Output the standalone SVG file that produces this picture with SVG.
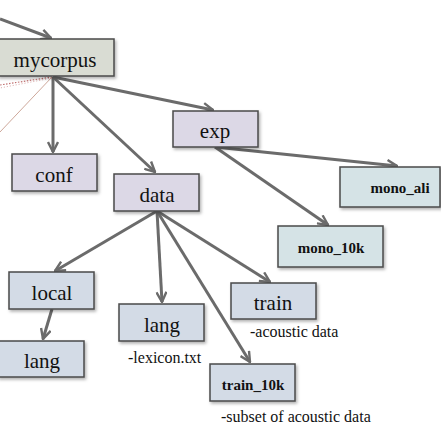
<svg xmlns="http://www.w3.org/2000/svg" width="441" height="441" viewBox="0 0 441 441">
  <defs>
    <marker id="arr" viewBox="0 0 12 12" refX="11" refY="6" markerWidth="12" markerHeight="12" markerUnits="userSpaceOnUse" orient="auto">
      <path d="M1,1 L11,6 L1,11" fill="none" stroke="#6b6b6b" stroke-width="2.4" stroke-linejoin="miter"/>
    </marker>
    <filter id="sh" x="-10%" y="-10%" width="130%" height="140%">
      <feDropShadow dx="1.5" dy="2" stdDeviation="1.5" flood-color="#000" flood-opacity="0.3"/>
    </filter>
  </defs>
  <style>
    rect { stroke: #4a4a4a; stroke-width: 1.5; filter: url(#sh); }
    .g { fill: #d9dcd3; }
    .p { fill: #dcd8e6; }
    .b { fill: #d5e3e6; }
    .s { fill: #d3dbe6; }
    text { font-family: "Liberation Serif", "DejaVu Serif", serif; fill: #111; text-anchor: middle; }
    .big { font-size: 21px; }
    .bold { font-size: 15px; font-weight: bold; }
    .note { font-size: 16px; text-anchor: start; }
    .c line { stroke: #6b6b6b; stroke-width: 3; marker-end: url(#arr); }
  </style>
  <rect width="441" height="441" fill="#ffffff" style="stroke:none;filter:none"/>

  <g id="connectors" class="c">
    <line x1="0" y1="19" x2="51" y2="38"/>
    <line x1="53" y1="77" x2="53" y2="152"/>
    <line x1="53" y1="77" x2="155" y2="172"/>
    <line x1="53" y1="77" x2="213" y2="110"/>
    <line x1="215" y1="147" x2="397" y2="166"/>
    <line x1="215" y1="147" x2="328" y2="225"/>
    <line x1="157" y1="211" x2="55" y2="271"/>
    <line x1="157" y1="211" x2="162" y2="302"/>
    <line x1="157" y1="211" x2="270" y2="282"/>
    <line x1="157" y1="211" x2="250" y2="362"/>
    <line x1="52" y1="309" x2="43" y2="339"/>
    <line x1="52" y1="77" x2="0" y2="85" style="stroke:#c07070;stroke-width:1.2;stroke-dasharray:1.5 1.5;marker-end:none"/>
    <line x1="52" y1="78" x2="0" y2="88" style="stroke:#d09090;stroke-width:0.8;stroke-dasharray:1 2;marker-end:none"/>
    <line x1="52" y1="77" x2="0" y2="132" style="stroke:#c09080;stroke-width:0.8;marker-end:none"/>
  </g>

  <g id="mycorpus">
    <rect class="g" x="-2" y="39" width="116" height="37"/>
    <text class="big" x="55" y="67">mycorpus</text>
  </g>
  <g id="conf">
    <rect class="p" x="12" y="154" width="85" height="37"/>
    <text class="big" x="54" y="182">conf</text>
  </g>
  <g id="data">
    <rect class="p" x="114" y="174" width="85" height="37"/>
    <text class="big" x="157" y="202">data</text>
  </g>
  <g id="exp">
    <rect class="p" x="173" y="111" width="85" height="36"/>
    <text class="big" x="215" y="138">exp</text>
  </g>
  <g id="mono_ali">
    <rect class="b" x="340" y="167" width="100" height="40"/>
    <text class="bold" x="400" y="193">mono_ali</text>
  </g>
  <g id="mono_10k">
    <rect class="b" x="278" y="226" width="105" height="41"/>
    <text class="bold" x="331" y="253">mono_10k</text>
  </g>
  <g id="local">
    <rect class="s" x="9" y="272" width="85" height="37"/>
    <text class="big" x="52" y="300">local</text>
  </g>
  <g id="lang_local">
    <rect class="s" x="-2" y="341" width="86" height="36"/>
    <text class="big" x="42" y="368">lang</text>
  </g>
  <g id="lang">
    <rect class="s" x="119" y="304" width="85" height="37"/>
    <text class="big" x="162" y="332">lang</text>
    <text class="note" x="128" y="363">-lexicon.txt</text>
  </g>
  <g id="train">
    <rect class="s" x="231" y="283" width="85" height="36"/>
    <text class="big" x="273" y="310">train</text>
    <text class="note" x="250" y="337">-acoustic data</text>
  </g>
  <g id="train_10k">
    <rect class="s" x="210" y="364" width="85" height="37"/>
    <text class="bold" x="253" y="390">train_10k</text>
    <text class="note" x="221" y="422">-subset of  acoustic data</text>
  </g>
</svg>
